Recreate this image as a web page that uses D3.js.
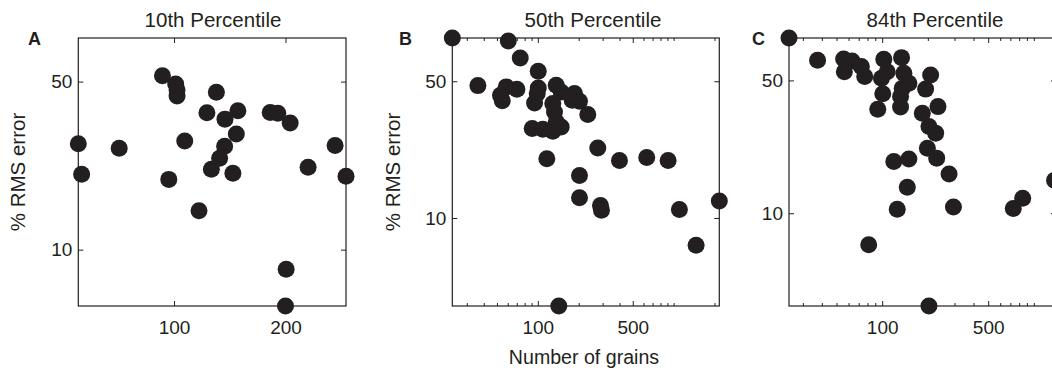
<!DOCTYPE html>
<html>
<head>
<meta charset="utf-8">
<script src="https://cdn.jsdelivr.net/npm/d3@7"></script>
<style>
  body { margin: 0; background: #fff; }
  svg { display: block; font-family: "Liberation Sans", Arial, Helvetica, sans-serif; }
</style>
</head>
<body>
<svg id="chart" width="1052" height="372"></svg>
<script>
// Panel A - 10th percentile (linear grains axis)
const grainsA = [14.1, 17.1, 50.8, 89.6, 101.5, 102.7, 102.7, 109.6, 95.3, 138, 129.5, 145.7, 157.3, 155.9,
  145.4, 140.9, 133.5, 152.8, 122.4, 186.3, 193.1, 204.2, 244.5, 220.3, 254.3, 200.6, 200];
const errorA = [27.6, 20.6, 26.4, 52.9, 48.9, 46.2, 43.6, 28.3, 19.6, 45.1, 37.1, 34.9, 37.8, 30.3,
  26.9, 24.0, 21.6, 20.8, 14.5, 37.2, 36.9, 33.6, 27.1, 22.0, 20.2, 8.28, 5.83];

// Panel B - 50th percentile
const grainsB = [23.45, 60.6, 74.2, 100.7, 36.2, 58.5, 70.1, 53.1, 54.7, 100.7, 99.0, 94.6, 136.6, 148.6,
  128.9, 132.7, 186.2, 202.7, 179.1, 233.3, 90.9, 108.8, 128.9, 148.6, 136.6, 276.4, 116.5, 399.2,
  634, 911, 202.7, 202.7, 289.3, 294.2, 1103, 2170, 1464, 142.7];
const errorB = [83.2, 80.4, 65.8, 56.2, 47.5, 46.8, 45.5, 42.4, 39.8, 46.2, 43.3, 38.7, 47.7, 44.1,
  38.5, 34.8, 43.3, 39.5, 40.0, 33.8, 28.7, 28.4, 27.8, 29.2, 31.0, 22.8, 20.1, 19.7,
  20.4, 19.7, 16.5, 12.7, 11.6, 10.95, 11.04, 12.2, 7.25, 3.55];

// Panel C - 84th percentile
const grainsC = [24.3, 37.5, 55.7, 63.3, 56.3, 72.9, 76.7, 102.5, 134.2, 107.9, 98.9, 139.0, 150.0, 135.6,
  100.9, 132.2, 208.7, 193.4, 93.5, 132.2, 183.9, 233.3, 203.4, 225.3, 198.6, 228.8, 119.3, 150.0,
  276.0, 146.4, 125.7, 295.0, 81.5, 731.6, 844.3, 1370, 203.4];
const errorC = [83.6, 63.9, 64.9, 63.3, 55.6, 59.1, 52.4, 64.6, 65.9, 55.6, 51.4, 54.6, 48.3, 45.5,
  42.5, 41.1, 53.4, 45.0, 35.3, 36.2, 33.6, 36.4, 28.6, 26.4, 22.0, 19.5, 18.7, 19.3,
  16.1, 13.7, 10.5, 10.8, 6.83, 10.6, 12.0, 14.9, 3.25];

const titles = ['10th Percentile', '50th Percentile', '84th Percentile'];
const letters = ['A', 'B', 'C'];
const yTicks = [10, 50];
const xTicksLinear = [100, 200];
const xTicksLog = [100, 500];
const xMinorLog = [30, 40, 50, 60, 70, 80, 90, 200, 300, 400, 600, 700, 800, 900, 1000, 2000];

const ink = '#231f20';
const plotTop = 38, plotBottom = 306;

const panels = [
  { grains: grainsA, error: errorA, log: false, xDomain: [14.1, 254.3], yDomain: [5.83, 75.9],
    left: 78.3, right: 346, titleX: 213, letterX: 28, ylabelX: 25 },
  { grains: grainsB, error: errorB, log: true, xDomain: [23.45, 2170], yDomain: [3.55, 83.2],
    left: 452.3, right: 719.3, titleX: 593, letterX: 399, ylabelX: 400 },
  { grains: grainsC, error: errorC, log: true, xDomain: [24.3, 1400], yDomain: [3.25, 83.6],
    left: 789, right: 1056, titleX: 935, letterX: 752, ylabelX: null }
];

const svg = d3.select('#chart');

panels.forEach((p, i) => {
  const x = (p.log ? d3.scaleLog() : d3.scaleLinear()).domain(p.xDomain).range([p.left, p.right]);
  const y = d3.scaleLog().domain(p.yDomain).range([plotBottom, plotTop]);
  const g = svg.append('g');

  // frame
  g.append('rect')
    .attr('x', p.left).attr('y', plotTop)
    .attr('width', p.right - p.left).attr('height', plotBottom - plotTop)
    .attr('fill', 'none').attr('stroke', ink).attr('stroke-width', 1.2);

  const majorX = p.log ? xTicksLog : xTicksLinear;

  // minor ticks on log axes
  if (p.log) {
    const minor = xMinorLog.filter(v => v > p.xDomain[0] && v < p.xDomain[1] && !majorX.includes(v));
    [['b', plotBottom], ['t', plotTop]].forEach(([side, pos]) => {
      const ax = (side === 'b' ? d3.axisBottom(x) : d3.axisTop(x))
        .tickValues(minor).tickSize(-3).tickSizeOuter(0).tickFormat(() => '');
      const s = g.append('g').attr('transform', `translate(0,${pos})`).call(ax);
      s.select('.domain').remove();
      s.selectAll('line').attr('stroke', ink);
    });
  }

  // x axis bottom with labels
  const xb = g.append('g').attr('transform', `translate(0,${plotBottom})`)
    .call(d3.axisBottom(x).tickValues(majorX).tickSize(-5).tickSizeOuter(0).tickPadding(14.5)
      .tickFormat(d3.format('d')));
  xb.select('.domain').remove();
  xb.selectAll('line').attr('stroke', ink);
  xb.selectAll('text').attr('fill', ink).style('font-size', '19px');

  const xt = g.append('g').attr('transform', `translate(0,${plotTop})`)
    .call(d3.axisTop(x).tickValues(majorX).tickSize(-5).tickSizeOuter(0).tickFormat(() => ''));
  xt.select('.domain').remove();
  xt.selectAll('line').attr('stroke', ink);

  // y axis left with labels
  const yl = g.append('g').attr('transform', `translate(${p.left},0)`)
    .call(d3.axisLeft(y).tickValues(yTicks).tickSize(-5).tickSizeOuter(0).tickPadding(6)
      .tickFormat(d3.format('d')));
  yl.select('.domain').remove();
  yl.selectAll('line').attr('stroke', ink);
  yl.selectAll('text').attr('fill', ink).style('font-size', '19px');

  const yr = g.append('g').attr('transform', `translate(${p.right},0)`)
    .call(d3.axisRight(y).tickValues(yTicks).tickSize(-5).tickSizeOuter(0).tickFormat(() => ''));
  yr.select('.domain').remove();
  yr.selectAll('line').attr('stroke', ink);

  // title
  g.append('text')
    .attr('x', p.titleX).attr('y', 27)
    .attr('text-anchor', 'middle')
    .attr('fill', ink).style('font-size', '20.5px')
    .text(titles[i]);

  // panel letter
  g.append('text')
    .attr('x', p.letterX).attr('y', 45)
    .attr('fill', ink).style('font-size', '18px').style('font-weight', 'bold')
    .text(letters[i]);

  // y label
  if (p.ylabelX !== null) {
    g.append('text')
      .attr('transform', `translate(${p.ylabelX},${(plotTop + plotBottom) / 2}) rotate(-90)`)
      .attr('text-anchor', 'middle')
      .attr('fill', ink).style('font-size', '20.5px')
      .text('% RMS error');
  }

  // dots
  g.selectAll('.dot')
    .data(p.grains.map((v, k) => [v, p.error[k]]))
    .enter()
    .append('circle')
    .attr('class', 'dot')
    .attr('cx', d => x(d[0]))
    .attr('cy', d => y(d[1]))
    .attr('r', 8.5)
    .attr('fill', ink);
});

// shared x label
svg.append('text')
  .attr('x', 584).attr('y', 364)
  .attr('text-anchor', 'middle')
  .attr('fill', ink).style('font-size', '19.6px')
  .text('Number of grains');
</script>
</body>
</html>
